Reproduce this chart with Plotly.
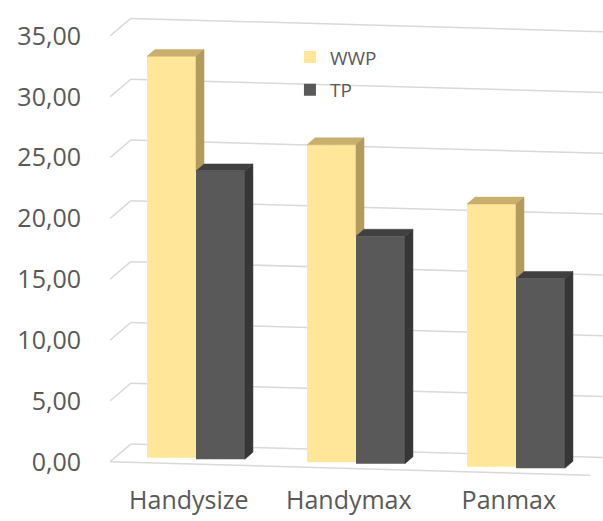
import plotly.graph_objects as go

# Ship classes and the two series
categories = ["Handysize", "Handymax", "Panmax"]
wwp_values = [33.0, 26.1, 21.6]
tp_values = [23.7, 18.7, 15.6]
tick_values = [0, 5, 10, 15, 20, 25, 30, 35]

# Styling
WWP_FRONT, WWP_TOP, WWP_SIDE = "#FFE699", "#C9AF6C", "#B39B5C"
TP_FRONT, TP_TOP, TP_SIDE = "#595959", "#404040", "#363636"
TEXT = "#595959"
GRID = "#D9D9D9"
FONT = "Open Sans"

BAR_W = 0.306      # width of one column (category units)
DEPTH_X = 0.05     # horizontal offset of the column depth
DEPTH_Y = 0.57     # vertical offset of the column depth
TILT = 0.37        # floor slope per category unit (perspective)
BASE0 = 0.27       # floor height at the first category centre
X_MIN, X_MAX = -0.5375, 2.54375

idx = list(range(len(categories)))


def floor_at(x):
    return BASE0 - TILT * x


wwp_base = [floor_at(i - BAR_W / 2) for i in idx]
tp_base = [floor_at(i + BAR_W / 2) for i in idx]

fig = go.Figure()

# Front faces of the columns
fig.add_trace(go.Bar(
    x=idx, y=wwp_values, base=wwp_base, width=BAR_W, offset=-BAR_W,
    name="WWP", marker=dict(color=WWP_FRONT, line=dict(width=0)),
    legendgroup="wwp", hoverinfo="skip"))
fig.add_trace(go.Bar(
    x=idx, y=tp_values, base=tp_base, width=BAR_W, offset=0,
    name="TP", marker=dict(color=TP_FRONT, line=dict(width=0)),
    legendgroup="tp", hoverinfo="skip"))


def face(xs, ys, color):
    fig.add_trace(go.Scatter(
        x=xs + [xs[0]], y=ys + [ys[0]], mode="lines", fill="toself",
        fillcolor=color, line=dict(color=color, width=0.5),
        showlegend=False, hoverinfo="skip"))


# Top and side faces giving the columns their depth
for i in idx:
    # WWP column (left)
    xl, xr = i - BAR_W, i
    top = wwp_base[i] + wwp_values[i]
    tp_top = tp_base[i] + tp_values[i]
    face([xl, xr, xr + DEPTH_X, xl + DEPTH_X],
         [top, top, top + DEPTH_Y, top + DEPTH_Y], WWP_TOP)
    # side is hidden by the TP column below its top
    face([xr, xr, xr + DEPTH_X, xr + DEPTH_X],
         [tp_top, top, top + DEPTH_Y, tp_top + DEPTH_Y], WWP_SIDE)

    # TP column (right)
    xl, xr = i, i + BAR_W
    base = tp_base[i]
    face([xl, xr, xr + DEPTH_X, xl + DEPTH_X],
         [tp_top, tp_top, tp_top + DEPTH_Y, tp_top + DEPTH_Y], TP_TOP)
    face([xr, xr, xr + DEPTH_X, xr + DEPTH_X],
         [base, tp_top, tp_top + DEPTH_Y, base + DEPTH_Y], TP_SIDE)

# Back-wall gridlines with their corner stubs, and the floor front edge
WALL_X = X_MIN + 0.13
WALL_RISE = 1.45
shapes = []
for v in tick_values:
    shapes.append(dict(type="line", xref="x", yref="y", layer="below",
                       x0=X_MIN, y0=v, x1=WALL_X, y1=v + WALL_RISE,
                       line=dict(color=GRID, width=1.5)))
    shapes.append(dict(type="line", xref="x", yref="y", layer="below",
                       x0=WALL_X, y0=v + WALL_RISE, x1=X_MAX,
                       y1=v + WALL_RISE - TILT * (X_MAX - WALL_X),
                       line=dict(color=GRID, width=1.5)))
floor_end = X_MIN + 3.0
shapes.append(dict(type="line", xref="x", yref="y", layer="below",
                   x0=X_MIN, y0=0, x1=floor_end, y1=-TILT * (floor_end - X_MIN),
                   line=dict(color=GRID, width=1.5)))

fig.update_layout(
    width=603, height=521,
    margin=dict(l=110, r=0, t=5, b=41),
    paper_bgcolor="white", plot_bgcolor="white",
    separators=",.",
    barmode="overlay",
    shapes=shapes,
    font=dict(family=FONT, color=TEXT),
    showlegend=True,
    legend=dict(x=0.365, y=0.93, xanchor="left", yanchor="top",
                font=dict(size=19, color=TEXT, family=FONT),
                traceorder="grouped", tracegroupgap=5,
                bgcolor="rgba(0,0,0,0)"),
    xaxis=dict(range=[X_MIN, X_MAX], tickmode="array",
               tickvals=[i - 0.045 for i in idx], ticktext=categories,
               showgrid=False, zeroline=False, showline=False, ticks="",
               tickfont=dict(size=25, color=TEXT, family=FONT),
               ticklabelstandoff=3),
    yaxis=dict(range=[-1.5, 37.55], tickmode="array", tickvals=tick_values,
               tickformat=".2f", showgrid=False, zeroline=False,
               showline=False, ticks="",
               tickfont=dict(size=25, color=TEXT, family=FONT),
               ticklabelstandoff=28),
)

fig.write_html("out.html")
